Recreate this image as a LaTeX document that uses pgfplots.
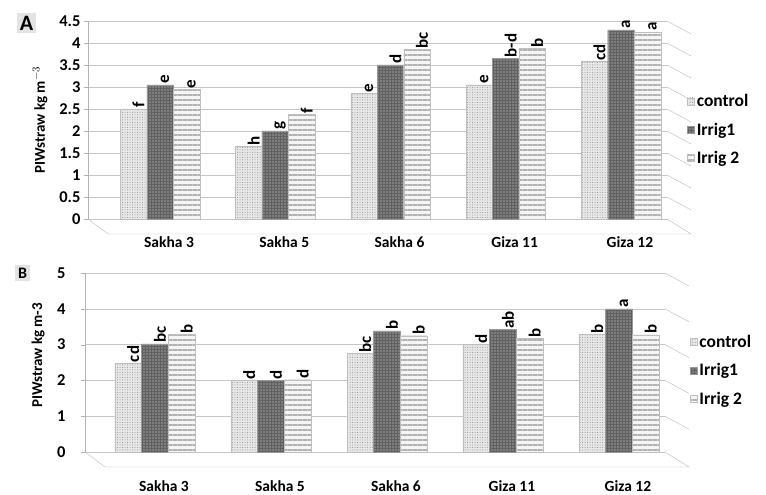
\documentclass[border=0pt]{standalone}
\usepackage{fontspec}
\setmainfont{Carlito}
\usepackage{pgfplots}
\pgfplotsset{compat=1.18}
\usetikzlibrary{patterns.meta,calc}
\tikzset{
 ctrl/.style={draw=gray!50, line width=0.3pt, fill=gray!18, postaction={pattern={Dots[distance=2.5pt,radius=0.5pt]}, pattern color=gray!90}},
 ir1/.style={draw=gray!80, line width=0.3pt, fill=black!62, postaction={pattern={Dots[distance=3pt,radius=0.55pt]}, pattern color=gray!25}},
 ir2/.style={draw=gray!50, line width=0.3pt, fill=gray!8, postaction={pattern={Lines[angle=0,distance=5pt,line width=1.8pt]}, pattern color=gray!60}},
}
\pgfplotsset{
 common/.style={
  scale only axis, anchor=south west,
  ybar, bar width=0.23,
  xtick={0,1,2,3,4}, xticklabels={Sakha 3,Sakha 5,Sakha 6,Giza 11,Giza 12},
  axis lines*=left,
  x axis line style={draw=none},
  y axis line style={gray!60},
  xtick style={draw=none},
  ytick style={gray!60},
  tick align=outside, major tick length=4pt,
  ymajorgrids, grid style={gray!45},
  /pgf/number format/assume math mode=true,
  yticklabel style={font=\bfseries\fontsize{16.5}{16}\selectfont, black},
  xticklabel style={font=\bfseries\fontsize{15.5}{15}\selectfont, black},
  nodes near coords, point meta=explicit symbolic,
  every node near coord/.append style={xshift=5pt, rotate=90, anchor=west, inner sep=1pt, font=\bfseries\fontsize{17}{17}\selectfont, black},
  legend image code/.code={\draw[##1] (0pt,-3.5pt) rectangle (7pt,3.5pt);},
  legend cell align=left,
  legend style={draw=none, fill=none, font=\bfseries\fontsize{17.5}{17.5}\selectfont, row sep=10.5pt, inner sep=0pt},
  every axis y label/.style={rotate=90, anchor=center, font=\bfseries\fontsize{15}{15}\selectfont},
 }
}
\begin{document}
\begin{tikzpicture}
\useasboundingbox (0,0) rectangle (766pt,495pt);
% Panel A
\begin{axis}[common,
  at={(88pt,276pt)}, width=579pt, height=198pt,
  xmin=-0.625, xmax=4.4, ymin=0, ymax=4.5,
  ytick={0,0.5,...,4.5},
  xticklabel style={xshift=9pt, yshift=-10pt},
  ylabel={PIWstraw kg m$^{-3}$},
  y label style={at={(axis description cs:-0.083,0.5)}},
  legend style={at={(1.035,0.64)}, anchor=north west},
  clip=false]
\addplot[ctrl, bar shift=-0.23] coordinates {(0,2.5)[f] (1,1.65)[h] (2,2.85)[e] (3,3.05)[e] (4,3.58)[cd]};
\addplot[ir1, bar shift=0] coordinates {(0,3.05)[e] (1,2.0)[g] (2,3.5)[d] (3,3.65)[b-d] (4,4.3)[a]};
\addplot[ir2, bar shift=0.23] coordinates {(0,2.95)[e] (1,2.38)[f] (2,3.85)[bc] (3,3.88)[b] (4,4.25)[a]};
\legend{control,Irrig1,Irrig 2}
\draw[gray!55] (axis cs:-0.625,0) -- ++(20pt,-15pt) -- ($(axis cs:4.4,0)+(24pt,-15pt)$) -- (axis cs:4.4,0);
\pgfplotsinvokeforeach{0.5,1,1.5,2,2.5,3,3.5,4,4.5}{\draw[gray!55] (axis cs:4.4,#1) -- ++(24pt,-13pt);}
\end{axis}
% Panel B
\begin{axis}[common,
  at={(85pt,43pt)}, width=580pt, height=179pt,
  xmin=-0.603, xmax=4.397, ymin=0, ymax=5,
  ytick={0,1,...,5},
  xticklabel style={xshift=9pt, yshift=-21pt},
  yticklabel style={xshift=-12pt},
  ylabel={PIWstraw kg m-3},
  y label style={at={(axis description cs:-0.081,0.54)}},
  legend style={at={(1.043,0.665)}, anchor=north west},
  clip=false]
\addplot[ctrl, bar shift=-0.23] coordinates {(0,2.48)[cd] (1,2.0)[d] (2,2.75)[bc] (3,3.0)[d] (4,3.28)[b]};
\addplot[ir1, bar shift=0] coordinates {(0,3.02)[bc] (1,2.0)[d] (2,3.38)[b] (3,3.42)[ab] (4,4.0)[a]};
\addplot[ir2, bar shift=0.23] coordinates {(0,3.28)[b] (1,2.02)[d] (2,3.25)[b] (3,3.17)[b] (4,3.27)[b]};
\legend{control,Irrig1,Irrig 2}
\draw[gray!55] (axis cs:-0.603,0) -- ++(20pt,-15pt) -- ($(axis cs:4.397,0)+(24pt,-15pt)$) -- (axis cs:4.397,0);
\pgfplotsinvokeforeach{1,2,3,4,5}{\draw[gray!55] (axis cs:4.397,#1) -- ++(24pt,-13pt);}
\end{axis}
\node[fill=gray!22, inner sep=3pt, font=\bfseries\fontsize{22}{22}\selectfont] at (26.5pt,472pt) {A};
\node[fill=gray!22, inner sep=3pt, font=\bfseries\fontsize{16}{16}\selectfont] at (22.5pt,222pt) {B};
\end{tikzpicture}
\end{document}
